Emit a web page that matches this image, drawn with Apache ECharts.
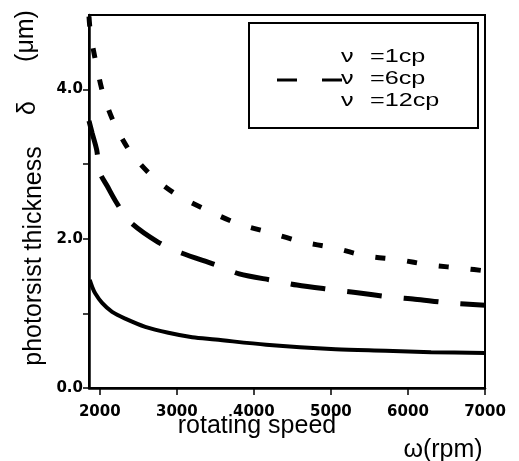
<!DOCTYPE html>
<html>
<head>
<meta charset="utf-8">
<script src="https://cdn.jsdelivr.net/npm/echarts@6.0.0/dist/echarts.min.js"></script>
<style>
  html, body { margin: 0; padding: 0; background: #fff; }
  #chart { width: 519px; height: 461px; }
</style>
</head>
<body>
<div id="chart"></div>
<script>
// rotating speed (rpm) -> thickness (um)
const solid1cp = [
  [1870, 1.45], [1900, 1.36], [1940, 1.27], [2030, 1.14], [2160, 1.02],
  [2330, 0.93], [2590, 0.82], [2890, 0.74], [3200, 0.68], [3500, 0.65],
  [4160, 0.58], [5060, 0.52], [5710, 0.50], [6300, 0.48], [7000, 0.47]
]
const dash6cp = [
  [1860, 3.58], [1900, 3.42], [1960, 3.19], [2000, 2.89], [2100, 2.70],
  [2220, 2.48], [2390, 2.23], [2750, 1.96], [3060, 1.81], [3510, 1.65],
  [3810, 1.53], [4260, 1.44], [4560, 1.38], [5000, 1.32], [5320, 1.28],
  [5770, 1.22], [6090, 1.19], [6540, 1.14], [7000, 1.11]
]
const dot12cp = [
  [1860, 4.98], [1880, 4.75], [1960, 4.31], [2050, 3.92], [2200, 3.52],
  [2400, 3.16], [2680, 2.84], [3000, 2.59], [3380, 2.39], [3800, 2.20],
  [4220, 2.08], [4620, 1.96], [5030, 1.88], [5460, 1.77], [5870, 1.72],
  [6280, 1.65], [6750, 1.60], [7000, 1.57]
]
const xTicks = [2000, 3000, 4000, 5000, 6000, 7000]
const yTicks = [0, 1, 2, 3, 4]
const yLabels = [0, 2, 4]
const legendNames = ["=1cp", "=6cp", "=12cp"]

const tickFont = { fontFamily: "DejaVu Sans", fontWeight: "bold", fontSize: 15, color: "#000" }
const titleFont = "25px 'Liberation Sans', Arial, sans-serif"

const chart = echarts.init(document.getElementById("chart"), null, { renderer: "canvas" })

// legend box drawn by hand: only the 6cp entry shows a line sample
const legendItems = []
legendNames.forEach((name, i) => {
  const y = 57 + i * 22
  legendItems.push({
    type: "text", x: 341, y, scaleX: 1.4,
    style: { text: "ν", font: "18px 'Liberation Sans', Arial, sans-serif", fill: "#000", align: "left", verticalAlign: "middle" }
  })
  legendItems.push({
    type: "text", x: 370, y, scaleX: 1.4,
    style: { text: name, font: "18px 'Liberation Sans', Arial, sans-serif", fill: "#000", align: "left", verticalAlign: "middle" }
  })
})

const option = {
  animation: false,
  backgroundColor: "#fff",
  grid: {
    left: 89, right: 34, top: 15, bottom: 73,
    show: true, borderColor: "#000", borderWidth: 2, backgroundColor: "transparent"
  },
  xAxis: {
    type: "value",
    min: 1860, max: 7000,
    axisLine: { show: true, onZero: false, lineStyle: { color: "#000", width: 2.5 } },
    axisTick: { show: true, customValues: xTicks, length: 7, lineStyle: { color: "#000", width: 1.5 } },
    axisLabel: { customValues: xTicks, margin: 17, formatter: (v) => String(v), ...tickFont },
    splitLine: { show: false }
  },
  yAxis: {
    type: "value",
    min: 0, max: 5,
    axisLine: { show: true, onZero: false, lineStyle: { color: "#000", width: 2.5 } },
    axisTick: { show: true, customValues: yTicks, length: 6, lineStyle: { color: "#000", width: 1.5 } },
    axisLabel: { customValues: yLabels, margin: 6, formatter: (v) => v.toFixed(1), ...tickFont },
    splitLine: { show: false }
  },
  series: [
    {
      name: "1cp", type: "line", data: solid1cp, smooth: 0.3, symbol: "none",
      lineStyle: { color: "#000", width: 4 }
    },
    {
      name: "6cp", type: "line", data: dash6cp, smooth: 0.3, symbol: "none",
      lineStyle: { color: "#000", width: 5, type: [35, 22] }
    },
    {
      name: "12cp", type: "line", data: dot12cp, smooth: 0.3, symbol: "none",
      lineStyle: { color: "#000", width: 5, type: [10, 22] }
    }
  ],
  graphic: [
    {
      type: "rect", shape: { x: 249, y: 23, width: 229, height: 105 },
      style: { fill: "#fff", stroke: "#000", lineWidth: 2 }, z: 100
    },
    {
      type: "line", shape: { x1: 277, y1: 80, x2: 345, y2: 80 },
      style: { stroke: "#000", lineWidth: 3, lineDash: [20, 25] }, z: 101
    },
    ...legendItems.map((t) => ({ ...t, z: 101 })),
    {
      type: "text", x: 34, y: 256, rotation: Math.PI / 2,
      style: { text: "photorsist thickness", font: titleFont, fill: "#000", align: "center", verticalAlign: "middle" }
    },
    {
      type: "text", x: 28, y: 108, rotation: Math.PI / 2,
      style: { text: "δ", font: titleFont, fill: "#000", align: "center", verticalAlign: "middle" }
    },
    {
      type: "text", x: 26, y: 36, rotation: Math.PI / 2,
      style: { text: "(μm)", font: titleFont, fill: "#000", align: "center", verticalAlign: "middle" }
    },
    {
      type: "text", x: 257, y: 426,
      style: { text: "rotating speed", font: titleFont, fill: "#000", align: "center", verticalAlign: "middle" }
    },
    {
      type: "text", x: 443, y: 450,
      style: { text: "ω(rpm)", font: titleFont, fill: "#000", align: "center", verticalAlign: "middle" }
    }
  ]
}

chart.setOption(option)
</script>
</body>
</html>
